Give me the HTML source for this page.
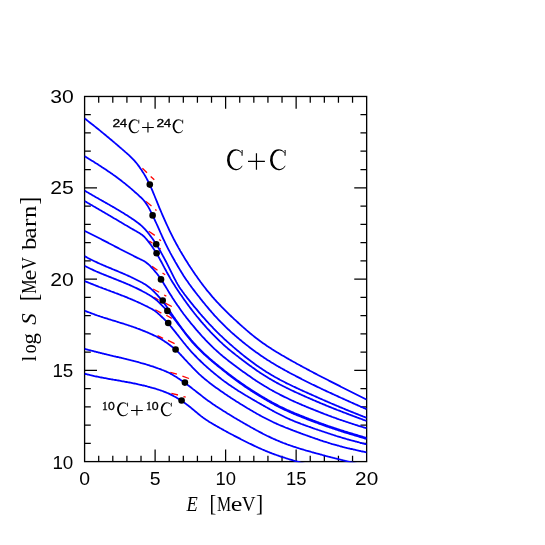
<!DOCTYPE html>
<html><head><meta charset="utf-8"><title>C+C S-factor</title>
<style>html,body{margin:0;padding:0;background:#fff;}svg{display:block;}text{font-family:"Liberation Sans",sans-serif;fill:#000;}.s{font-family:"Liberation Serif",serif;}</style></head><body>
<svg width="545" height="545" viewBox="0 0 545 545">
<title>log S versus E for C+C fusion reactions</title>
<rect x="0" y="0" width="545" height="545" fill="#fff"/>
<defs><clipPath id="cp"><rect x="84.6" y="96.47" width="282.6" height="365.7"/></clipPath></defs>
<path d="M98.70,461.6 V455.70 M98.70,96.47 V102.67 M112.80,461.6 V455.70 M112.80,96.47 V102.67 M126.91,461.6 V455.70 M126.91,96.47 V102.67 M141.01,461.6 V455.70 M141.01,96.47 V102.67 M155.11,461.6 V449.50 M155.11,96.47 V108.87 M169.21,461.6 V455.70 M169.21,96.47 V102.67 M183.32,461.6 V455.70 M183.32,96.47 V102.67 M197.42,461.6 V455.70 M197.42,96.47 V102.67 M211.52,461.6 V455.70 M211.52,96.47 V102.67 M225.62,461.6 V449.50 M225.62,96.47 V108.87 M239.73,461.6 V455.70 M239.73,96.47 V102.67 M253.83,461.6 V455.70 M253.83,96.47 V102.67 M267.93,461.6 V455.70 M267.93,96.47 V102.67 M282.03,461.6 V455.70 M282.03,96.47 V102.67 M296.14,461.6 V449.50 M296.14,96.47 V108.87 M310.24,461.6 V455.70 M310.24,96.47 V102.67 M324.34,461.6 V455.70 M324.34,96.47 V102.67 M338.44,461.6 V455.70 M338.44,96.47 V102.67 M352.55,461.6 V455.70 M352.55,96.47 V102.67 M84.6,443.34 H90.80 M366.65,443.34 H360.45 M84.6,425.09 H90.80 M366.65,425.09 H360.45 M84.6,406.83 H90.80 M366.65,406.83 H360.45 M84.6,388.57 H90.80 M366.65,388.57 H360.45 M84.6,370.32 H97.00 M366.65,370.32 H354.25 M84.6,352.06 H90.80 M366.65,352.06 H360.45 M84.6,333.80 H90.80 M366.65,333.80 H360.45 M84.6,315.55 H90.80 M366.65,315.55 H360.45 M84.6,297.29 H90.80 M366.65,297.29 H360.45 M84.6,279.04 H97.00 M366.65,279.04 H354.25 M84.6,260.78 H90.80 M366.65,260.78 H360.45 M84.6,242.52 H90.80 M366.65,242.52 H360.45 M84.6,224.27 H90.80 M366.65,224.27 H360.45 M84.6,206.01 H90.80 M366.65,206.01 H360.45 M84.6,187.75 H97.00 M366.65,187.75 H354.25 M84.6,169.50 H90.80 M366.65,169.50 H360.45 M84.6,151.24 H90.80 M366.65,151.24 H360.45 M84.6,132.98 H90.80 M366.65,132.98 H360.45 M84.6,114.73 H90.80 M366.65,114.73 H360.45" stroke="#000" stroke-width="1.25" fill="none"/>
<rect x="84.6" y="96.47" width="282.05" height="365.13" fill="none" stroke="#000" stroke-width="1.33"/>
<g stroke="#ff0000" stroke-width="1.3" fill="none" stroke-linecap="butt">
<path d="M142.4,168.3 L147,172.8"/>
<path d="M150.7,176.5 L154.3,179.8"/>
<path d="M146,201.5 L151.5,205.9"/>
<path d="M155.3,209.4 L156.5,210.4"/>
<path d="M148.7,231.2 L154.8,235.4"/>
<path d="M159.2,239.4 L161,240.8"/>
<path d="M149.3,241.1 L152.6,243.3"/>
<path d="M159.7,248.3 L160.7,249"/>
<path d="M152,266.4 L157.5,270.3"/>
<path d="M162.5,273 L165.2,274.7"/>
<path d="M153.1,289 L159.2,292.3"/>
<path d="M164.1,295 L166.3,296.1"/>
<path d="M154.2,297.2 L158.6,300"/>
<path d="M165.2,303.2 L171.8,306.5"/>
<path d="M155.3,309.8 L161.4,313.1"/>
<path d="M166.3,315.3 L171.8,318.4"/>
<path d="M157.5,335.7 L163,338.4"/>
<path d="M168,340.4 L174.6,343.6"/>
<path d="M170.3,372.3 L176.9,374.1"/>
<path d="M182.4,376.1 L189,378.5"/>
<path d="M171.4,393.4 L178,395"/>
<path d="M183.5,396.7 L185.7,397.2"/>
</g>
<g clip-path="url(#cp)" stroke="#0000ff" stroke-width="1.8" fill="none" stroke-linejoin="round">
<path d="M84.4,118.3 L85.4,119.1 L86.4,119.8 L87.4,120.6 L88.4,121.4 L89.4,122.2 L90.4,123.0 L91.4,123.8 L92.4,124.5 L93.4,125.3 L94.4,126.1 L95.4,126.9 L96.4,127.7 L97.4,128.5 L98.4,129.3 L99.4,130.1 L100.4,130.9 L101.4,131.8 L102.4,132.6 L103.4,133.4 L104.4,134.2 L105.4,135.0 L106.4,135.9 L107.4,136.7 L108.4,137.5 L109.4,138.4 L110.4,139.2 L111.4,140.0 L112.4,140.9 L113.4,141.7 L114.4,142.6 L115.4,143.4 L116.4,144.3 L117.4,145.1 L118.4,146.0 L119.4,146.9 L120.4,147.7 L121.4,148.6 L122.4,149.4 L123.4,150.3 L124.4,151.2 L125.4,152.1 L126.4,152.9 L127.4,153.8 L128.4,154.7 L129.4,155.6 L130.4,156.6 L131.4,157.6 L132.4,158.6 L133.4,159.6 L134.4,160.7 L135.4,161.8 L136.4,163.0 L137.4,164.3 L138.4,165.6 L139.4,166.9 L140.4,168.4 L141.4,169.8 L142.4,171.4 L143.4,172.9 L144.4,174.6 L145.4,176.3 L146.4,178.1 L147.4,180.0 L148.4,182.0 L149.4,184.0 L150.4,186.2 L151.4,188.4 L152.4,190.7 L153.4,193.1 L154.4,195.5 L155.4,198.0 L156.4,200.4 L157.4,202.9 L158.4,205.4 L159.4,207.8 L160.4,210.2 L161.4,212.5 L162.4,214.8 L163.4,217.1 L164.4,219.4 L165.4,221.6 L166.4,223.8 L167.4,226.0 L168.4,228.2 L169.4,230.3 L170.4,232.4 L171.4,234.4 L172.4,236.4 L173.4,238.4 L174.4,240.3 L175.4,242.1 L176.4,244.0 L177.4,245.8 L178.4,247.6 L179.4,249.3 L180.4,251.1 L181.4,252.8 L182.4,254.5 L183.4,256.1 L184.4,257.8 L185.4,259.4 L186.4,261.0 L187.4,262.6 L188.4,264.2 L189.4,265.7 L190.4,267.3 L191.4,268.8 L192.4,270.3 L193.4,271.7 L194.4,273.2 L195.4,274.7 L196.4,276.1 L197.4,277.5 L198.4,278.9 L199.4,280.3 L200.4,281.7 L201.4,283.0 L202.4,284.4 L203.4,285.7 L204.4,287.0 L205.4,288.3 L206.4,289.6 L207.4,290.8 L208.4,292.0 L209.4,293.2 L210.4,294.4 L211.4,295.6 L212.4,296.8 L213.4,297.9 L214.4,299.1 L215.4,300.2 L216.4,301.3 L217.4,302.4 L218.4,303.4 L219.4,304.5 L220.4,305.5 L221.4,306.6 L222.4,307.6 L223.4,308.6 L224.4,309.6 L225.4,310.6 L226.4,311.6 L227.4,312.6 L228.4,313.6 L229.4,314.6 L230.4,315.5 L231.4,316.5 L232.4,317.4 L233.4,318.3 L234.4,319.3 L235.4,320.2 L236.4,321.1 L237.4,322.0 L238.4,323.0 L239.4,323.9 L240.4,324.8 L241.4,325.7 L242.4,326.6 L243.4,327.4 L244.4,328.3 L245.4,329.2 L246.4,330.1 L247.4,330.9 L248.4,331.8 L249.4,332.6 L250.4,333.5 L251.4,334.3 L252.4,335.1 L253.4,335.9 L254.4,336.7 L255.4,337.5 L256.4,338.3 L257.4,339.0 L258.4,339.8 L259.4,340.5 L260.4,341.3 L261.4,342.0 L262.4,342.7 L263.4,343.4 L264.4,344.1 L265.4,344.8 L266.4,345.5 L267.4,346.2 L268.4,346.8 L269.4,347.5 L270.4,348.1 L271.4,348.8 L272.4,349.4 L273.4,350.0 L274.4,350.7 L275.4,351.3 L276.4,351.9 L277.4,352.5 L278.4,353.1 L279.4,353.7 L280.4,354.3 L281.4,354.9 L282.4,355.5 L283.4,356.0 L284.4,356.6 L285.4,357.2 L286.4,357.8 L287.4,358.4 L288.4,358.9 L289.4,359.5 L290.4,360.1 L291.4,360.6 L292.4,361.2 L293.4,361.7 L294.4,362.3 L295.4,362.8 L296.4,363.4 L297.4,364.0 L298.4,364.5 L299.4,365.0 L300.4,365.6 L301.4,366.1 L302.4,366.7 L303.4,367.2 L304.4,367.8 L305.4,368.3 L306.4,368.8 L307.4,369.4 L308.4,369.9 L309.4,370.4 L310.4,371.0 L311.4,371.5 L312.4,372.0 L313.4,372.6 L314.4,373.1 L315.4,373.6 L316.4,374.1 L317.4,374.7 L318.4,375.2 L319.4,375.7 L320.4,376.2 L321.4,376.7 L322.4,377.3 L323.4,377.8 L324.4,378.3 L325.4,378.8 L326.4,379.3 L327.4,379.8 L328.4,380.3 L329.4,380.9 L330.4,381.4 L331.4,381.9 L332.4,382.4 L333.4,382.9 L334.4,383.4 L335.4,383.9 L336.4,384.4 L337.4,384.9 L338.4,385.4 L339.4,385.9 L340.4,386.4 L341.4,387.0 L342.4,387.5 L343.4,388.0 L344.4,388.5 L345.4,389.0 L346.4,389.5 L347.4,390.0 L348.4,390.5 L349.4,391.0 L350.4,391.5 L351.4,392.0 L352.4,392.5 L353.4,393.0 L354.4,393.5 L355.4,394.0 L356.4,394.5 L357.4,395.0 L358.4,395.5 L359.4,396.0 L360.4,396.5 L361.4,397.0 L362.4,397.5 L363.4,398.0 L364.4,398.5 L365.4,399.0 L366.4,399.5"/>
<path d="M84.4,156.1 L85.4,156.7 L86.4,157.3 L87.4,157.9 L88.4,158.6 L89.4,159.2 L90.4,159.8 L91.4,160.4 L92.4,161.0 L93.4,161.6 L94.4,162.2 L95.4,162.9 L96.4,163.5 L97.4,164.1 L98.4,164.8 L99.4,165.4 L100.4,166.1 L101.4,166.7 L102.4,167.4 L103.4,168.0 L104.4,168.7 L105.4,169.3 L106.4,170.0 L107.4,170.7 L108.4,171.4 L109.4,172.1 L110.4,172.7 L111.4,173.4 L112.4,174.1 L113.4,174.9 L114.4,175.6 L115.4,176.3 L116.4,177.0 L117.4,177.8 L118.4,178.5 L119.4,179.3 L120.4,180.0 L121.4,180.8 L122.4,181.6 L123.4,182.4 L124.4,183.1 L125.4,183.9 L126.4,184.8 L127.4,185.6 L128.4,186.4 L129.4,187.2 L130.4,188.1 L131.4,188.9 L132.4,189.8 L133.4,190.7 L134.4,191.6 L135.4,192.5 L136.4,193.3 L137.4,194.2 L138.4,195.1 L139.4,196.1 L140.4,197.0 L141.4,197.9 L142.4,198.9 L143.4,200.0 L144.4,201.2 L145.4,202.4 L146.4,203.9 L147.4,205.4 L148.4,207.1 L149.4,208.9 L150.4,210.8 L151.4,212.8 L152.4,214.9 L153.4,217.0 L154.4,219.1 L155.4,221.3 L156.4,223.5 L157.4,225.7 L158.4,227.9 L159.4,230.2 L160.4,232.5 L161.4,234.7 L162.4,237.0 L163.4,239.1 L164.4,241.2 L165.4,243.3 L166.4,245.3 L167.4,247.3 L168.4,249.3 L169.4,251.2 L170.4,253.1 L171.4,254.9 L172.4,256.8 L173.4,258.5 L174.4,260.3 L175.4,262.1 L176.4,263.8 L177.4,265.5 L178.4,267.2 L179.4,268.9 L180.4,270.6 L181.4,272.2 L182.4,273.8 L183.4,275.4 L184.4,276.9 L185.4,278.4 L186.4,279.9 L187.4,281.3 L188.4,282.8 L189.4,284.2 L190.4,285.5 L191.4,286.9 L192.4,288.3 L193.4,289.6 L194.4,290.9 L195.4,292.2 L196.4,293.5 L197.4,294.8 L198.4,296.0 L199.4,297.3 L200.4,298.6 L201.4,299.8 L202.4,301.1 L203.4,302.3 L204.4,303.5 L205.4,304.8 L206.4,306.0 L207.4,307.2 L208.4,308.4 L209.4,309.6 L210.4,310.7 L211.4,311.9 L212.4,313.0 L213.4,314.1 L214.4,315.3 L215.4,316.4 L216.4,317.4 L217.4,318.5 L218.4,319.6 L219.4,320.6 L220.4,321.7 L221.4,322.7 L222.4,323.7 L223.4,324.7 L224.4,325.7 L225.4,326.7 L226.4,327.6 L227.4,328.6 L228.4,329.5 L229.4,330.4 L230.4,331.4 L231.4,332.3 L232.4,333.2 L233.4,334.0 L234.4,334.9 L235.4,335.8 L236.4,336.6 L237.4,337.5 L238.4,338.3 L239.4,339.2 L240.4,340.0 L241.4,340.8 L242.4,341.7 L243.4,342.5 L244.4,343.3 L245.4,344.1 L246.4,344.9 L247.4,345.6 L248.4,346.4 L249.4,347.2 L250.4,348.0 L251.4,348.7 L252.4,349.5 L253.4,350.2 L254.4,350.9 L255.4,351.7 L256.4,352.4 L257.4,353.1 L258.4,353.8 L259.4,354.5 L260.4,355.2 L261.4,355.9 L262.4,356.6 L263.4,357.2 L264.4,357.9 L265.4,358.6 L266.4,359.2 L267.4,359.9 L268.4,360.5 L269.4,361.1 L270.4,361.8 L271.4,362.4 L272.4,363.0 L273.4,363.6 L274.4,364.2 L275.4,364.8 L276.4,365.4 L277.4,366.0 L278.4,366.6 L279.4,367.1 L280.4,367.7 L281.4,368.3 L282.4,368.8 L283.4,369.4 L284.4,369.9 L285.4,370.5 L286.4,371.0 L287.4,371.6 L288.4,372.1 L289.4,372.7 L290.4,373.2 L291.4,373.7 L292.4,374.3 L293.4,374.8 L294.4,375.3 L295.4,375.8 L296.4,376.4 L297.4,376.9 L298.4,377.4 L299.4,377.9 L300.4,378.4 L301.4,378.9 L302.4,379.5 L303.4,380.0 L304.4,380.5 L305.4,381.0 L306.4,381.5 L307.4,382.0 L308.4,382.5 L309.4,383.0 L310.4,383.5 L311.4,384.0 L312.4,384.5 L313.4,384.9 L314.4,385.4 L315.4,385.9 L316.4,386.4 L317.4,386.9 L318.4,387.3 L319.4,387.8 L320.4,388.3 L321.4,388.8 L322.4,389.2 L323.4,389.7 L324.4,390.2 L325.4,390.6 L326.4,391.1 L327.4,391.6 L328.4,392.0 L329.4,392.5 L330.4,392.9 L331.4,393.4 L332.4,393.9 L333.4,394.3 L334.4,394.8 L335.4,395.2 L336.4,395.7 L337.4,396.1 L338.4,396.6 L339.4,397.1 L340.4,397.5 L341.4,398.0 L342.4,398.4 L343.4,398.9 L344.4,399.3 L345.4,399.8 L346.4,400.2 L347.4,400.7 L348.4,401.1 L349.4,401.6 L350.4,402.0 L351.4,402.5 L352.4,402.9 L353.4,403.4 L354.4,403.8 L355.4,404.3 L356.4,404.7 L357.4,405.1 L358.4,405.6 L359.4,406.0 L360.4,406.5 L361.4,406.9 L362.4,407.3 L363.4,407.8 L364.4,408.2 L365.4,408.6 L366.4,409.1"/>
<path d="M84.4,190.5 L85.4,191.1 L86.4,191.7 L87.4,192.3 L88.4,192.8 L89.4,193.4 L90.4,194.0 L91.4,194.6 L92.4,195.2 L93.4,195.8 L94.4,196.3 L95.4,196.9 L96.4,197.5 L97.4,198.0 L98.4,198.6 L99.4,199.2 L100.4,199.7 L101.4,200.3 L102.4,200.9 L103.4,201.4 L104.4,202.0 L105.4,202.6 L106.4,203.1 L107.4,203.7 L108.4,204.3 L109.4,204.8 L110.4,205.4 L111.4,206.0 L112.4,206.6 L113.4,207.1 L114.4,207.7 L115.4,208.3 L116.4,208.9 L117.4,209.5 L118.4,210.1 L119.4,210.7 L120.4,211.3 L121.4,211.9 L122.4,212.5 L123.4,213.1 L124.4,213.7 L125.4,214.4 L126.4,215.0 L127.4,215.6 L128.4,216.3 L129.4,216.9 L130.4,217.6 L131.4,218.2 L132.4,218.9 L133.4,219.6 L134.4,220.3 L135.4,221.0 L136.4,221.7 L137.4,222.4 L138.4,223.2 L139.4,224.0 L140.4,224.8 L141.4,225.7 L142.4,226.6 L143.4,227.6 L144.4,228.6 L145.4,229.7 L146.4,230.8 L147.4,232.0 L148.4,233.3 L149.4,234.5 L150.4,235.9 L151.4,237.2 L152.4,238.6 L153.4,240.0 L154.4,241.5 L155.4,243.0 L156.4,244.5 L157.4,246.1 L158.4,247.8 L159.4,249.5 L160.4,251.3 L161.4,253.1 L162.4,254.9 L163.4,256.8 L164.4,258.6 L165.4,260.5 L166.4,262.4 L167.4,264.4 L168.4,266.3 L169.4,268.3 L170.4,270.3 L171.4,272.3 L172.4,274.3 L173.4,276.3 L174.4,278.3 L175.4,280.2 L176.4,282.1 L177.4,283.9 L178.4,285.6 L179.4,287.2 L180.4,288.7 L181.4,290.1 L182.4,291.5 L183.4,292.8 L184.4,294.2 L185.4,295.5 L186.4,296.8 L187.4,298.1 L188.4,299.3 L189.4,300.6 L190.4,301.9 L191.4,303.1 L192.4,304.3 L193.4,305.6 L194.4,306.8 L195.4,308.0 L196.4,309.2 L197.4,310.4 L198.4,311.6 L199.4,312.8 L200.4,314.0 L201.4,315.1 L202.4,316.3 L203.4,317.4 L204.4,318.5 L205.4,319.7 L206.4,320.8 L207.4,321.9 L208.4,323.0 L209.4,324.1 L210.4,325.1 L211.4,326.2 L212.4,327.2 L213.4,328.3 L214.4,329.3 L215.4,330.3 L216.4,331.4 L217.4,332.4 L218.4,333.3 L219.4,334.3 L220.4,335.3 L221.4,336.2 L222.4,337.2 L223.4,338.1 L224.4,339.1 L225.4,340.0 L226.4,340.9 L227.4,341.8 L228.4,342.7 L229.4,343.6 L230.4,344.5 L231.4,345.3 L232.4,346.2 L233.4,347.1 L234.4,347.9 L235.4,348.8 L236.4,349.6 L237.4,350.5 L238.4,351.3 L239.4,352.1 L240.4,353.0 L241.4,353.8 L242.4,354.6 L243.4,355.4 L244.4,356.2 L245.4,357.0 L246.4,357.8 L247.4,358.5 L248.4,359.3 L249.4,360.1 L250.4,360.8 L251.4,361.6 L252.4,362.3 L253.4,363.0 L254.4,363.8 L255.4,364.5 L256.4,365.2 L257.4,365.9 L258.4,366.6 L259.4,367.3 L260.4,367.9 L261.4,368.6 L262.4,369.3 L263.4,369.9 L264.4,370.6 L265.4,371.2 L266.4,371.9 L267.4,372.5 L268.4,373.1 L269.4,373.7 L270.4,374.3 L271.4,374.9 L272.4,375.5 L273.4,376.1 L274.4,376.7 L275.4,377.2 L276.4,377.8 L277.4,378.3 L278.4,378.9 L279.4,379.4 L280.4,380.0 L281.4,380.5 L282.4,381.0 L283.4,381.5 L284.4,382.0 L285.4,382.6 L286.4,383.1 L287.4,383.6 L288.4,384.0 L289.4,384.5 L290.4,385.0 L291.4,385.5 L292.4,386.0 L293.4,386.5 L294.4,386.9 L295.4,387.4 L296.4,387.9 L297.4,388.3 L298.4,388.8 L299.4,389.2 L300.4,389.7 L301.4,390.2 L302.4,390.6 L303.4,391.1 L304.4,391.5 L305.4,392.0 L306.4,392.4 L307.4,392.9 L308.4,393.3 L309.4,393.8 L310.4,394.2 L311.4,394.6 L312.4,395.1 L313.4,395.5 L314.4,396.0 L315.4,396.4 L316.4,396.9 L317.4,397.3 L318.4,397.8 L319.4,398.2 L320.4,398.7 L321.4,399.1 L322.4,399.5 L323.4,400.0 L324.4,400.4 L325.4,400.9 L326.4,401.3 L327.4,401.7 L328.4,402.2 L329.4,402.6 L330.4,403.0 L331.4,403.5 L332.4,403.9 L333.4,404.3 L334.4,404.7 L335.4,405.2 L336.4,405.6 L337.4,406.0 L338.4,406.4 L339.4,406.9 L340.4,407.3 L341.4,407.7 L342.4,408.1 L343.4,408.5 L344.4,408.9 L345.4,409.4 L346.4,409.8 L347.4,410.2 L348.4,410.6 L349.4,411.0 L350.4,411.4 L351.4,411.8 L352.4,412.2 L353.4,412.6 L354.4,413.0 L355.4,413.4 L356.4,413.8 L357.4,414.2 L358.4,414.6 L359.4,415.0 L360.4,415.4 L361.4,415.8 L362.4,416.2 L363.4,416.6 L364.4,416.9 L365.4,417.3 L366.4,417.7"/>
<path d="M84.4,200.9 L85.4,201.5 L86.4,202.1 L87.4,202.7 L88.4,203.2 L89.4,203.8 L90.4,204.4 L91.4,205.0 L92.4,205.6 L93.4,206.2 L94.4,206.7 L95.4,207.3 L96.4,207.9 L97.4,208.5 L98.4,209.1 L99.4,209.7 L100.4,210.2 L101.4,210.8 L102.4,211.4 L103.4,212.0 L104.4,212.6 L105.4,213.2 L106.4,213.8 L107.4,214.3 L108.4,214.9 L109.4,215.5 L110.4,216.1 L111.4,216.7 L112.4,217.3 L113.4,217.9 L114.4,218.5 L115.4,219.0 L116.4,219.6 L117.4,220.2 L118.4,220.8 L119.4,221.4 L120.4,222.0 L121.4,222.6 L122.4,223.2 L123.4,223.8 L124.4,224.4 L125.4,225.0 L126.4,225.5 L127.4,226.1 L128.4,226.7 L129.4,227.3 L130.4,227.9 L131.4,228.5 L132.4,229.1 L133.4,229.6 L134.4,230.2 L135.4,230.8 L136.4,231.3 L137.4,231.9 L138.4,232.5 L139.4,233.1 L140.4,233.7 L141.4,234.4 L142.4,235.1 L143.4,236.0 L144.4,236.9 L145.4,238.0 L146.4,239.1 L147.4,240.3 L148.4,241.6 L149.4,242.9 L150.4,244.2 L151.4,245.6 L152.4,247.0 L153.4,248.5 L154.4,250.0 L155.4,251.6 L156.4,253.2 L157.4,254.9 L158.4,256.6 L159.4,258.4 L160.4,260.2 L161.4,262.0 L162.4,263.9 L163.4,265.8 L164.4,267.7 L165.4,269.5 L166.4,271.4 L167.4,273.2 L168.4,275.0 L169.4,276.8 L170.4,278.6 L171.4,280.3 L172.4,281.9 L173.4,283.5 L174.4,285.1 L175.4,286.7 L176.4,288.2 L177.4,289.7 L178.4,291.2 L179.4,292.7 L180.4,294.2 L181.4,295.6 L182.4,297.1 L183.4,298.5 L184.4,299.9 L185.4,301.3 L186.4,302.7 L187.4,304.1 L188.4,305.4 L189.4,306.8 L190.4,308.1 L191.4,309.4 L192.4,310.7 L193.4,312.0 L194.4,313.3 L195.4,314.5 L196.4,315.8 L197.4,317.0 L198.4,318.2 L199.4,319.4 L200.4,320.6 L201.4,321.8 L202.4,322.9 L203.4,324.1 L204.4,325.2 L205.4,326.3 L206.4,327.5 L207.4,328.6 L208.4,329.6 L209.4,330.7 L210.4,331.8 L211.4,332.8 L212.4,333.9 L213.4,334.9 L214.4,335.9 L215.4,336.9 L216.4,337.9 L217.4,338.9 L218.4,339.9 L219.4,340.9 L220.4,341.8 L221.4,342.7 L222.4,343.7 L223.4,344.6 L224.4,345.5 L225.4,346.4 L226.4,347.2 L227.4,348.1 L228.4,349.0 L229.4,349.8 L230.4,350.6 L231.4,351.4 L232.4,352.2 L233.4,353.0 L234.4,353.8 L235.4,354.6 L236.4,355.4 L237.4,356.1 L238.4,356.9 L239.4,357.7 L240.4,358.4 L241.4,359.2 L242.4,360.0 L243.4,360.7 L244.4,361.5 L245.4,362.2 L246.4,363.0 L247.4,363.7 L248.4,364.5 L249.4,365.2 L250.4,365.9 L251.4,366.6 L252.4,367.4 L253.4,368.1 L254.4,368.8 L255.4,369.5 L256.4,370.2 L257.4,370.9 L258.4,371.6 L259.4,372.2 L260.4,372.9 L261.4,373.6 L262.4,374.2 L263.4,374.8 L264.4,375.5 L265.4,376.1 L266.4,376.7 L267.4,377.3 L268.4,378.0 L269.4,378.6 L270.4,379.1 L271.4,379.7 L272.4,380.3 L273.4,380.9 L274.4,381.4 L275.4,382.0 L276.4,382.6 L277.4,383.1 L278.4,383.6 L279.4,384.2 L280.4,384.7 L281.4,385.2 L282.4,385.7 L283.4,386.3 L284.4,386.8 L285.4,387.3 L286.4,387.8 L287.4,388.2 L288.4,388.7 L289.4,389.2 L290.4,389.7 L291.4,390.2 L292.4,390.7 L293.4,391.1 L294.4,391.6 L295.4,392.1 L296.4,392.5 L297.4,393.0 L298.4,393.4 L299.4,393.9 L300.4,394.3 L301.4,394.8 L302.4,395.2 L303.4,395.7 L304.4,396.1 L305.4,396.6 L306.4,397.0 L307.4,397.5 L308.4,397.9 L309.4,398.3 L310.4,398.8 L311.4,399.2 L312.4,399.6 L313.4,400.1 L314.4,400.5 L315.4,400.9 L316.4,401.4 L317.4,401.8 L318.4,402.2 L319.4,402.6 L320.4,403.1 L321.4,403.5 L322.4,403.9 L323.4,404.3 L324.4,404.7 L325.4,405.1 L326.4,405.6 L327.4,406.0 L328.4,406.4 L329.4,406.8 L330.4,407.2 L331.4,407.6 L332.4,408.0 L333.4,408.4 L334.4,408.8 L335.4,409.2 L336.4,409.6 L337.4,410.0 L338.4,410.3 L339.4,410.7 L340.4,411.1 L341.4,411.5 L342.4,411.9 L343.4,412.3 L344.4,412.7 L345.4,413.0 L346.4,413.4 L347.4,413.8 L348.4,414.2 L349.4,414.6 L350.4,414.9 L351.4,415.3 L352.4,415.7 L353.4,416.1 L354.4,416.4 L355.4,416.8 L356.4,417.2 L357.4,417.6 L358.4,417.9 L359.4,418.3 L360.4,418.7 L361.4,419.0 L362.4,419.4 L363.4,419.8 L364.4,420.1 L365.4,420.5 L366.4,420.9"/>
<path d="M84.4,230.9 L85.4,231.3 L86.4,231.8 L87.4,232.3 L88.4,232.8 L89.4,233.3 L90.4,233.8 L91.4,234.3 L92.4,234.8 L93.4,235.3 L94.4,235.8 L95.4,236.3 L96.4,236.8 L97.4,237.3 L98.4,237.8 L99.4,238.3 L100.4,238.8 L101.4,239.3 L102.4,239.9 L103.4,240.4 L104.4,240.9 L105.4,241.4 L106.4,241.9 L107.4,242.4 L108.4,242.9 L109.4,243.5 L110.4,244.0 L111.4,244.5 L112.4,245.0 L113.4,245.5 L114.4,246.1 L115.4,246.6 L116.4,247.1 L117.4,247.6 L118.4,248.1 L119.4,248.7 L120.4,249.2 L121.4,249.7 L122.4,250.2 L123.4,250.7 L124.4,251.2 L125.4,251.8 L126.4,252.3 L127.4,252.8 L128.4,253.3 L129.4,253.8 L130.4,254.3 L131.4,254.8 L132.4,255.3 L133.4,255.8 L134.4,256.4 L135.4,256.9 L136.4,257.4 L137.4,257.9 L138.4,258.3 L139.4,258.8 L140.4,259.3 L141.4,259.7 L142.4,260.2 L143.4,260.7 L144.4,261.3 L145.4,261.9 L146.4,262.7 L147.4,263.5 L148.4,264.3 L149.4,265.2 L150.4,266.2 L151.4,267.3 L152.4,268.4 L153.4,269.5 L154.4,270.7 L155.4,271.9 L156.4,273.0 L157.4,274.3 L158.4,275.6 L159.4,277.0 L160.4,278.5 L161.4,280.0 L162.4,281.5 L163.4,283.1 L164.4,284.7 L165.4,286.3 L166.4,287.9 L167.4,289.6 L168.4,291.3 L169.4,292.9 L170.4,294.5 L171.4,296.1 L172.4,297.7 L173.4,299.2 L174.4,300.8 L175.4,302.3 L176.4,303.7 L177.4,305.2 L178.4,306.6 L179.4,308.1 L180.4,309.5 L181.4,310.9 L182.4,312.3 L183.4,313.7 L184.4,315.0 L185.4,316.3 L186.4,317.6 L187.4,318.8 L188.4,320.1 L189.4,321.3 L190.4,322.6 L191.4,323.8 L192.4,325.0 L193.4,326.2 L194.4,327.4 L195.4,328.6 L196.4,329.8 L197.4,330.9 L198.4,332.1 L199.4,333.2 L200.4,334.3 L201.4,335.5 L202.4,336.6 L203.4,337.6 L204.4,338.7 L205.4,339.8 L206.4,340.8 L207.4,341.9 L208.4,342.9 L209.4,343.9 L210.4,344.9 L211.4,345.9 L212.4,346.9 L213.4,347.8 L214.4,348.8 L215.4,349.7 L216.4,350.6 L217.4,351.5 L218.4,352.4 L219.4,353.3 L220.4,354.2 L221.4,355.0 L222.4,355.9 L223.4,356.7 L224.4,357.5 L225.4,358.3 L226.4,359.1 L227.4,359.9 L228.4,360.7 L229.4,361.5 L230.4,362.2 L231.4,363.0 L232.4,363.8 L233.4,364.5 L234.4,365.3 L235.4,366.0 L236.4,366.8 L237.4,367.5 L238.4,368.2 L239.4,369.0 L240.4,369.7 L241.4,370.4 L242.4,371.2 L243.4,371.9 L244.4,372.6 L245.4,373.3 L246.4,374.0 L247.4,374.7 L248.4,375.4 L249.4,376.1 L250.4,376.8 L251.4,377.5 L252.4,378.2 L253.4,378.9 L254.4,379.5 L255.4,380.2 L256.4,380.9 L257.4,381.5 L258.4,382.2 L259.4,382.8 L260.4,383.5 L261.4,384.1 L262.4,384.7 L263.4,385.3 L264.4,385.9 L265.4,386.5 L266.4,387.1 L267.4,387.7 L268.4,388.3 L269.4,388.9 L270.4,389.5 L271.4,390.0 L272.4,390.6 L273.4,391.1 L274.4,391.7 L275.4,392.2 L276.4,392.8 L277.4,393.3 L278.4,393.8 L279.4,394.3 L280.4,394.9 L281.4,395.4 L282.4,395.9 L283.4,396.4 L284.4,396.9 L285.4,397.3 L286.4,397.8 L287.4,398.3 L288.4,398.8 L289.4,399.3 L290.4,399.7 L291.4,400.2 L292.4,400.7 L293.4,401.1 L294.4,401.6 L295.4,402.0 L296.4,402.5 L297.4,402.9 L298.4,403.3 L299.4,403.8 L300.4,404.2 L301.4,404.6 L302.4,405.1 L303.4,405.5 L304.4,405.9 L305.4,406.3 L306.4,406.8 L307.4,407.2 L308.4,407.6 L309.4,408.0 L310.4,408.4 L311.4,408.8 L312.4,409.2 L313.4,409.6 L314.4,410.0 L315.4,410.4 L316.4,410.8 L317.4,411.2 L318.4,411.6 L319.4,412.0 L320.4,412.4 L321.4,412.8 L322.4,413.2 L323.4,413.6 L324.4,414.0 L325.4,414.4 L326.4,414.7 L327.4,415.1 L328.4,415.5 L329.4,415.9 L330.4,416.2 L331.4,416.6 L332.4,417.0 L333.4,417.3 L334.4,417.7 L335.4,418.0 L336.4,418.4 L337.4,418.8 L338.4,419.1 L339.4,419.5 L340.4,419.8 L341.4,420.2 L342.4,420.5 L343.4,420.8 L344.4,421.2 L345.4,421.5 L346.4,421.9 L347.4,422.2 L348.4,422.5 L349.4,422.9 L350.4,423.2 L351.4,423.5 L352.4,423.8 L353.4,424.2 L354.4,424.5 L355.4,424.8 L356.4,425.1 L357.4,425.4 L358.4,425.8 L359.4,426.1 L360.4,426.4 L361.4,426.7 L362.4,427.0 L363.4,427.3 L364.4,427.6 L365.4,427.9 L366.4,428.2"/>
<path d="M84.4,256.1 L85.4,256.6 L86.4,257.1 L87.4,257.7 L88.4,258.2 L89.4,258.7 L90.4,259.2 L91.4,259.7 L92.4,260.2 L93.4,260.7 L94.4,261.2 L95.4,261.7 L96.4,262.1 L97.4,262.6 L98.4,263.1 L99.4,263.5 L100.4,264.0 L101.4,264.4 L102.4,264.8 L103.4,265.3 L104.4,265.7 L105.4,266.1 L106.4,266.6 L107.4,267.0 L108.4,267.4 L109.4,267.8 L110.4,268.2 L111.4,268.6 L112.4,269.1 L113.4,269.5 L114.4,269.9 L115.4,270.3 L116.4,270.7 L117.4,271.1 L118.4,271.5 L119.4,272.0 L120.4,272.4 L121.4,272.8 L122.4,273.2 L123.4,273.7 L124.4,274.1 L125.4,274.5 L126.4,275.0 L127.4,275.4 L128.4,275.9 L129.4,276.3 L130.4,276.8 L131.4,277.3 L132.4,277.7 L133.4,278.2 L134.4,278.7 L135.4,279.2 L136.4,279.7 L137.4,280.2 L138.4,280.7 L139.4,281.2 L140.4,281.7 L141.4,282.3 L142.4,282.8 L143.4,283.4 L144.4,284.0 L145.4,284.6 L146.4,285.3 L147.4,286.0 L148.4,286.7 L149.4,287.5 L150.4,288.3 L151.4,289.2 L152.4,290.1 L153.4,291.1 L154.4,292.0 L155.4,293.1 L156.4,294.1 L157.4,295.2 L158.4,296.3 L159.4,297.4 L160.4,298.6 L161.4,299.8 L162.4,301.0 L163.4,302.3 L164.4,303.6 L165.4,304.9 L166.4,306.3 L167.4,307.7 L168.4,309.1 L169.4,310.6 L170.4,312.0 L171.4,313.5 L172.4,314.9 L173.4,316.4 L174.4,317.8 L175.4,319.3 L176.4,320.7 L177.4,322.1 L178.4,323.5 L179.4,324.9 L180.4,326.3 L181.4,327.7 L182.4,329.1 L183.4,330.4 L184.4,331.7 L185.4,333.0 L186.4,334.3 L187.4,335.5 L188.4,336.7 L189.4,337.9 L190.4,339.1 L191.4,340.3 L192.4,341.4 L193.4,342.5 L194.4,343.6 L195.4,344.7 L196.4,345.8 L197.4,346.9 L198.4,347.9 L199.4,348.9 L200.4,349.9 L201.4,350.9 L202.4,351.9 L203.4,352.9 L204.4,353.8 L205.4,354.7 L206.4,355.6 L207.4,356.5 L208.4,357.4 L209.4,358.3 L210.4,359.2 L211.4,360.0 L212.4,360.9 L213.4,361.7 L214.4,362.5 L215.4,363.4 L216.4,364.2 L217.4,365.0 L218.4,365.8 L219.4,366.6 L220.4,367.4 L221.4,368.2 L222.4,369.0 L223.4,369.8 L224.4,370.6 L225.4,371.4 L226.4,372.1 L227.4,372.9 L228.4,373.7 L229.4,374.5 L230.4,375.2 L231.4,376.0 L232.4,376.7 L233.4,377.5 L234.4,378.2 L235.4,379.0 L236.4,379.7 L237.4,380.4 L238.4,381.1 L239.4,381.8 L240.4,382.5 L241.4,383.2 L242.4,383.9 L243.4,384.6 L244.4,385.3 L245.4,386.0 L246.4,386.7 L247.4,387.3 L248.4,388.0 L249.4,388.6 L250.4,389.3 L251.4,389.9 L252.4,390.6 L253.4,391.2 L254.4,391.8 L255.4,392.5 L256.4,393.1 L257.4,393.7 L258.4,394.3 L259.4,394.9 L260.4,395.6 L261.4,396.2 L262.4,396.8 L263.4,397.4 L264.4,397.9 L265.4,398.5 L266.4,399.1 L267.4,399.7 L268.4,400.3 L269.4,400.8 L270.4,401.4 L271.4,401.9 L272.4,402.5 L273.4,403.0 L274.4,403.6 L275.4,404.1 L276.4,404.6 L277.4,405.1 L278.4,405.7 L279.4,406.2 L280.4,406.7 L281.4,407.2 L282.4,407.6 L283.4,408.1 L284.4,408.6 L285.4,409.1 L286.4,409.5 L287.4,410.0 L288.4,410.4 L289.4,410.9 L290.4,411.3 L291.4,411.8 L292.4,412.2 L293.4,412.6 L294.4,413.1 L295.4,413.5 L296.4,413.9 L297.4,414.3 L298.4,414.7 L299.4,415.1 L300.4,415.5 L301.4,415.9 L302.4,416.3 L303.4,416.7 L304.4,417.1 L305.4,417.5 L306.4,417.9 L307.4,418.3 L308.4,418.7 L309.4,419.1 L310.4,419.4 L311.4,419.8 L312.4,420.2 L313.4,420.6 L314.4,420.9 L315.4,421.3 L316.4,421.7 L317.4,422.0 L318.4,422.4 L319.4,422.8 L320.4,423.1 L321.4,423.5 L322.4,423.9 L323.4,424.2 L324.4,424.6 L325.4,424.9 L326.4,425.3 L327.4,425.6 L328.4,426.0 L329.4,426.3 L330.4,426.7 L331.4,427.0 L332.4,427.3 L333.4,427.7 L334.4,428.0 L335.4,428.3 L336.4,428.7 L337.4,429.0 L338.4,429.3 L339.4,429.7 L340.4,430.0 L341.4,430.3 L342.4,430.6 L343.4,430.9 L344.4,431.3 L345.4,431.6 L346.4,431.9 L347.4,432.2 L348.4,432.5 L349.4,432.8 L350.4,433.1 L351.4,433.4 L352.4,433.7 L353.4,434.0 L354.4,434.3 L355.4,434.6 L356.4,434.9 L357.4,435.2 L358.4,435.5 L359.4,435.8 L360.4,436.1 L361.4,436.4 L362.4,436.7 L363.4,437.0 L364.4,437.3 L365.4,437.6 L366.4,437.9"/>
<path d="M84.4,265.7 L85.4,266.2 L86.4,266.7 L87.4,267.2 L88.4,267.7 L89.4,268.2 L90.4,268.7 L91.4,269.2 L92.4,269.6 L93.4,270.1 L94.4,270.6 L95.4,271.0 L96.4,271.5 L97.4,271.9 L98.4,272.3 L99.4,272.7 L100.4,273.2 L101.4,273.6 L102.4,274.0 L103.4,274.4 L104.4,274.8 L105.4,275.2 L106.4,275.6 L107.4,276.0 L108.4,276.4 L109.4,276.8 L110.4,277.2 L111.4,277.6 L112.4,278.0 L113.4,278.4 L114.4,278.8 L115.4,279.2 L116.4,279.6 L117.4,280.0 L118.4,280.4 L119.4,280.8 L120.4,281.2 L121.4,281.6 L122.4,282.0 L123.4,282.4 L124.4,282.8 L125.4,283.2 L126.4,283.7 L127.4,284.1 L128.4,284.5 L129.4,284.9 L130.4,285.4 L131.4,285.8 L132.4,286.3 L133.4,286.7 L134.4,287.2 L135.4,287.7 L136.4,288.1 L137.4,288.6 L138.4,289.1 L139.4,289.6 L140.4,290.1 L141.4,290.6 L142.4,291.2 L143.4,291.7 L144.4,292.2 L145.4,292.8 L146.4,293.3 L147.4,293.9 L148.4,294.5 L149.4,295.1 L150.4,295.7 L151.4,296.3 L152.4,297.0 L153.4,297.7 L154.4,298.4 L155.4,299.2 L156.4,300.0 L157.4,300.9 L158.4,301.9 L159.4,302.8 L160.4,303.8 L161.4,304.8 L162.4,305.8 L163.4,306.8 L164.4,307.8 L165.4,308.9 L166.4,309.9 L167.4,311.0 L168.4,312.1 L169.4,313.2 L170.4,314.4 L171.4,315.5 L172.4,316.7 L173.4,318.0 L174.4,319.2 L175.4,320.5 L176.4,321.8 L177.4,323.1 L178.4,324.4 L179.4,325.7 L180.4,327.0 L181.4,328.3 L182.4,329.6 L183.4,331.0 L184.4,332.3 L185.4,333.6 L186.4,334.9 L187.4,336.2 L188.4,337.5 L189.4,338.7 L190.4,340.0 L191.4,341.1 L192.4,342.3 L193.4,343.4 L194.4,344.5 L195.4,345.5 L196.4,346.6 L197.4,347.6 L198.4,348.6 L199.4,349.7 L200.4,350.7 L201.4,351.6 L202.4,352.6 L203.4,353.5 L204.4,354.5 L205.4,355.4 L206.4,356.3 L207.4,357.2 L208.4,358.1 L209.4,359.0 L210.4,359.8 L211.4,360.7 L212.4,361.5 L213.4,362.4 L214.4,363.2 L215.4,364.0 L216.4,364.9 L217.4,365.7 L218.4,366.5 L219.4,367.3 L220.4,368.1 L221.4,368.9 L222.4,369.7 L223.4,370.5 L224.4,371.3 L225.4,372.1 L226.4,372.9 L227.4,373.7 L228.4,374.5 L229.4,375.3 L230.4,376.0 L231.4,376.8 L232.4,377.6 L233.4,378.3 L234.4,379.1 L235.4,379.8 L236.4,380.6 L237.4,381.3 L238.4,382.0 L239.4,382.7 L240.4,383.4 L241.4,384.1 L242.4,384.8 L243.4,385.5 L244.4,386.2 L245.4,386.9 L246.4,387.6 L247.4,388.3 L248.4,388.9 L249.4,389.6 L250.4,390.2 L251.4,390.9 L252.4,391.5 L253.4,392.2 L254.4,392.8 L255.4,393.4 L256.4,394.1 L257.4,394.7 L258.4,395.3 L259.4,395.9 L260.4,396.5 L261.4,397.1 L262.4,397.8 L263.4,398.3 L264.4,398.9 L265.4,399.5 L266.4,400.1 L267.4,400.7 L268.4,401.3 L269.4,401.8 L270.4,402.4 L271.4,402.9 L272.4,403.5 L273.4,404.0 L274.4,404.6 L275.4,405.1 L276.4,405.6 L277.4,406.1 L278.4,406.7 L279.4,407.2 L280.4,407.7 L281.4,408.2 L282.4,408.6 L283.4,409.1 L284.4,409.6 L285.4,410.1 L286.4,410.5 L287.4,411.0 L288.4,411.5 L289.4,411.9 L290.4,412.3 L291.4,412.8 L292.4,413.2 L293.4,413.6 L294.4,414.1 L295.4,414.5 L296.4,414.9 L297.4,415.3 L298.4,415.7 L299.4,416.1 L300.4,416.5 L301.4,416.9 L302.4,417.3 L303.4,417.7 L304.4,418.1 L305.4,418.5 L306.4,418.9 L307.4,419.3 L308.4,419.7 L309.4,420.1 L310.4,420.4 L311.4,420.8 L312.4,421.2 L313.4,421.6 L314.4,421.9 L315.4,422.3 L316.4,422.7 L317.4,423.0 L318.4,423.4 L319.4,423.8 L320.4,424.1 L321.4,424.5 L322.4,424.9 L323.4,425.2 L324.4,425.6 L325.4,425.9 L326.4,426.3 L327.4,426.6 L328.4,427.0 L329.4,427.3 L330.4,427.7 L331.4,428.0 L332.4,428.3 L333.4,428.7 L334.4,429.0 L335.4,429.3 L336.4,429.7 L337.4,430.0 L338.4,430.3 L339.4,430.7 L340.4,431.0 L341.4,431.3 L342.4,431.6 L343.4,431.9 L344.4,432.3 L345.4,432.6 L346.4,432.9 L347.4,433.2 L348.4,433.5 L349.4,433.8 L350.4,434.1 L351.4,434.4 L352.4,434.7 L353.4,435.0 L354.4,435.3 L355.4,435.6 L356.4,435.9 L357.4,436.2 L358.4,436.5 L359.4,436.8 L360.4,437.1 L361.4,437.4 L362.4,437.7 L363.4,438.0 L364.4,438.3 L365.4,438.6 L366.4,438.9"/>
<path d="M84.4,281.0 L85.4,281.4 L86.4,281.8 L87.4,282.2 L88.4,282.6 L89.4,283.0 L90.4,283.4 L91.4,283.8 L92.4,284.2 L93.4,284.6 L94.4,285.0 L95.4,285.4 L96.4,285.8 L97.4,286.2 L98.4,286.6 L99.4,287.0 L100.4,287.3 L101.4,287.7 L102.4,288.1 L103.4,288.5 L104.4,288.8 L105.4,289.2 L106.4,289.6 L107.4,290.0 L108.4,290.3 L109.4,290.7 L110.4,291.1 L111.4,291.5 L112.4,291.8 L113.4,292.2 L114.4,292.6 L115.4,293.0 L116.4,293.3 L117.4,293.7 L118.4,294.1 L119.4,294.5 L120.4,294.9 L121.4,295.3 L122.4,295.7 L123.4,296.0 L124.4,296.4 L125.4,296.8 L126.4,297.2 L127.4,297.6 L128.4,298.1 L129.4,298.5 L130.4,298.9 L131.4,299.3 L132.4,299.7 L133.4,300.2 L134.4,300.6 L135.4,301.0 L136.4,301.5 L137.4,301.9 L138.4,302.4 L139.4,302.8 L140.4,303.3 L141.4,303.8 L142.4,304.2 L143.4,304.7 L144.4,305.2 L145.4,305.7 L146.4,306.2 L147.4,306.6 L148.4,307.2 L149.4,307.7 L150.4,308.2 L151.4,308.7 L152.4,309.3 L153.4,310.0 L154.4,310.6 L155.4,311.3 L156.4,312.1 L157.4,312.9 L158.4,313.8 L159.4,314.7 L160.4,315.6 L161.4,316.5 L162.4,317.5 L163.4,318.4 L164.4,319.4 L165.4,320.4 L166.4,321.5 L167.4,322.5 L168.4,323.6 L169.4,324.8 L170.4,326.0 L171.4,327.2 L172.4,328.4 L173.4,329.7 L174.4,330.9 L175.4,332.1 L176.4,333.4 L177.4,334.7 L178.4,335.9 L179.4,337.2 L180.4,338.5 L181.4,339.7 L182.4,341.0 L183.4,342.3 L184.4,343.5 L185.4,344.7 L186.4,346.0 L187.4,347.2 L188.4,348.4 L189.4,349.5 L190.4,350.7 L191.4,351.8 L192.4,352.9 L193.4,353.9 L194.4,355.0 L195.4,356.0 L196.4,357.0 L197.4,358.1 L198.4,359.1 L199.4,360.0 L200.4,361.0 L201.4,362.0 L202.4,362.9 L203.4,363.9 L204.4,364.8 L205.4,365.7 L206.4,366.6 L207.4,367.5 L208.4,368.4 L209.4,369.2 L210.4,370.1 L211.4,371.0 L212.4,371.8 L213.4,372.6 L214.4,373.5 L215.4,374.3 L216.4,375.1 L217.4,375.9 L218.4,376.7 L219.4,377.5 L220.4,378.3 L221.4,379.1 L222.4,379.9 L223.4,380.6 L224.4,381.4 L225.4,382.1 L226.4,382.8 L227.4,383.5 L228.4,384.2 L229.4,384.9 L230.4,385.6 L231.4,386.3 L232.4,387.0 L233.4,387.6 L234.4,388.3 L235.4,388.9 L236.4,389.6 L237.4,390.2 L238.4,390.9 L239.4,391.5 L240.4,392.1 L241.4,392.7 L242.4,393.3 L243.4,393.9 L244.4,394.6 L245.4,395.2 L246.4,395.8 L247.4,396.3 L248.4,396.9 L249.4,397.5 L250.4,398.1 L251.4,398.7 L252.4,399.3 L253.4,399.9 L254.4,400.4 L255.4,401.0 L256.4,401.6 L257.4,402.2 L258.4,402.7 L259.4,403.3 L260.4,403.9 L261.4,404.4 L262.4,405.0 L263.4,405.6 L264.4,406.1 L265.4,406.7 L266.4,407.3 L267.4,407.8 L268.4,408.4 L269.4,408.9 L270.4,409.5 L271.4,410.0 L272.4,410.6 L273.4,411.1 L274.4,411.7 L275.4,412.2 L276.4,412.7 L277.4,413.3 L278.4,413.8 L279.4,414.3 L280.4,414.8 L281.4,415.3 L282.4,415.8 L283.4,416.3 L284.4,416.8 L285.4,417.3 L286.4,417.7 L287.4,418.2 L288.4,418.7 L289.4,419.1 L290.4,419.6 L291.4,420.0 L292.4,420.4 L293.4,420.8 L294.4,421.3 L295.4,421.7 L296.4,422.1 L297.4,422.4 L298.4,422.8 L299.4,423.2 L300.4,423.6 L301.4,424.0 L302.4,424.3 L303.4,424.7 L304.4,425.1 L305.4,425.4 L306.4,425.8 L307.4,426.1 L308.4,426.5 L309.4,426.8 L310.4,427.2 L311.4,427.6 L312.4,427.9 L313.4,428.3 L314.4,428.6 L315.4,429.0 L316.4,429.3 L317.4,429.6 L318.4,430.0 L319.4,430.3 L320.4,430.7 L321.4,431.0 L322.4,431.4 L323.4,431.7 L324.4,432.0 L325.4,432.4 L326.4,432.7 L327.4,433.0 L328.4,433.4 L329.4,433.7 L330.4,434.0 L331.4,434.4 L332.4,434.7 L333.4,435.0 L334.4,435.3 L335.4,435.6 L336.4,436.0 L337.4,436.3 L338.4,436.6 L339.4,436.9 L340.4,437.2 L341.4,437.5 L342.4,437.8 L343.4,438.1 L344.4,438.4 L345.4,438.7 L346.4,439.0 L347.4,439.3 L348.4,439.5 L349.4,439.8 L350.4,440.1 L351.4,440.4 L352.4,440.6 L353.4,440.9 L354.4,441.2 L355.4,441.5 L356.4,441.7 L357.4,442.0 L358.4,442.2 L359.4,442.5 L360.4,442.8 L361.4,443.0 L362.4,443.3 L363.4,443.5 L364.4,443.8 L365.4,444.0 L366.4,444.3"/>
<path d="M84.4,310.6 L85.4,311.0 L86.4,311.4 L87.4,311.8 L88.4,312.2 L89.4,312.5 L90.4,312.9 L91.4,313.3 L92.4,313.7 L93.4,314.0 L94.4,314.4 L95.4,314.8 L96.4,315.1 L97.4,315.5 L98.4,315.8 L99.4,316.1 L100.4,316.5 L101.4,316.8 L102.4,317.1 L103.4,317.5 L104.4,317.8 L105.4,318.1 L106.4,318.4 L107.4,318.7 L108.4,319.1 L109.4,319.4 L110.4,319.7 L111.4,320.0 L112.4,320.3 L113.4,320.6 L114.4,320.9 L115.4,321.2 L116.4,321.5 L117.4,321.8 L118.4,322.2 L119.4,322.5 L120.4,322.8 L121.4,323.1 L122.4,323.4 L123.4,323.7 L124.4,324.0 L125.4,324.4 L126.4,324.7 L127.4,325.0 L128.4,325.3 L129.4,325.7 L130.4,326.0 L131.4,326.3 L132.4,326.7 L133.4,327.0 L134.4,327.4 L135.4,327.7 L136.4,328.1 L137.4,328.5 L138.4,328.8 L139.4,329.2 L140.4,329.6 L141.4,330.0 L142.4,330.4 L143.4,330.8 L144.4,331.2 L145.4,331.6 L146.4,332.0 L147.4,332.4 L148.4,332.8 L149.4,333.3 L150.4,333.7 L151.4,334.2 L152.4,334.6 L153.4,335.1 L154.4,335.6 L155.4,336.0 L156.4,336.5 L157.4,337.1 L158.4,337.6 L159.4,338.1 L160.4,338.7 L161.4,339.3 L162.4,339.9 L163.4,340.6 L164.4,341.2 L165.4,341.9 L166.4,342.6 L167.4,343.3 L168.4,344.0 L169.4,344.7 L170.4,345.5 L171.4,346.3 L172.4,347.0 L173.4,347.9 L174.4,348.7 L175.4,349.6 L176.4,350.5 L177.4,351.4 L178.4,352.4 L179.4,353.4 L180.4,354.5 L181.4,355.5 L182.4,356.6 L183.4,357.7 L184.4,358.8 L185.4,359.8 L186.4,360.9 L187.4,362.0 L188.4,363.1 L189.4,364.1 L190.4,365.2 L191.4,366.2 L192.4,367.3 L193.4,368.3 L194.4,369.3 L195.4,370.3 L196.4,371.3 L197.4,372.3 L198.4,373.3 L199.4,374.3 L200.4,375.2 L201.4,376.1 L202.4,377.0 L203.4,377.8 L204.4,378.7 L205.4,379.5 L206.4,380.3 L207.4,381.1 L208.4,381.9 L209.4,382.7 L210.4,383.5 L211.4,384.2 L212.4,385.0 L213.4,385.7 L214.4,386.5 L215.4,387.2 L216.4,387.9 L217.4,388.6 L218.4,389.3 L219.4,390.0 L220.4,390.7 L221.4,391.4 L222.4,392.1 L223.4,392.8 L224.4,393.5 L225.4,394.2 L226.4,394.8 L227.4,395.5 L228.4,396.2 L229.4,396.8 L230.4,397.5 L231.4,398.2 L232.4,398.8 L233.4,399.5 L234.4,400.1 L235.4,400.7 L236.4,401.4 L237.4,402.0 L238.4,402.6 L239.4,403.3 L240.4,403.9 L241.4,404.5 L242.4,405.1 L243.4,405.7 L244.4,406.3 L245.4,406.9 L246.4,407.6 L247.4,408.2 L248.4,408.7 L249.4,409.3 L250.4,409.9 L251.4,410.5 L252.4,411.1 L253.4,411.7 L254.4,412.3 L255.4,412.8 L256.4,413.4 L257.4,414.0 L258.4,414.5 L259.4,415.1 L260.4,415.6 L261.4,416.2 L262.4,416.7 L263.4,417.3 L264.4,417.8 L265.4,418.3 L266.4,418.8 L267.4,419.3 L268.4,419.8 L269.4,420.3 L270.4,420.8 L271.4,421.3 L272.4,421.8 L273.4,422.3 L274.4,422.7 L275.4,423.2 L276.4,423.6 L277.4,424.1 L278.4,424.5 L279.4,425.0 L280.4,425.4 L281.4,425.8 L282.4,426.2 L283.4,426.6 L284.4,427.0 L285.4,427.5 L286.4,427.9 L287.4,428.2 L288.4,428.6 L289.4,429.0 L290.4,429.4 L291.4,429.8 L292.4,430.2 L293.4,430.6 L294.4,430.9 L295.4,431.3 L296.4,431.7 L297.4,432.1 L298.4,432.4 L299.4,432.8 L300.4,433.2 L301.4,433.6 L302.4,433.9 L303.4,434.3 L304.4,434.6 L305.4,435.0 L306.4,435.4 L307.4,435.7 L308.4,436.1 L309.4,436.4 L310.4,436.8 L311.4,437.2 L312.4,437.5 L313.4,437.9 L314.4,438.2 L315.4,438.6 L316.4,438.9 L317.4,439.2 L318.4,439.6 L319.4,439.9 L320.4,440.3 L321.4,440.6 L322.4,440.9 L323.4,441.3 L324.4,441.6 L325.4,441.9 L326.4,442.2 L327.4,442.5 L328.4,442.8 L329.4,443.2 L330.4,443.5 L331.4,443.8 L332.4,444.1 L333.4,444.3 L334.4,444.6 L335.4,444.9 L336.4,445.2 L337.4,445.5 L338.4,445.7 L339.4,446.0 L340.4,446.3 L341.4,446.5 L342.4,446.8 L343.4,447.1 L344.4,447.3 L345.4,447.6 L346.4,447.8 L347.4,448.1 L348.4,448.3 L349.4,448.5 L350.4,448.8 L351.4,449.0 L352.4,449.2 L353.4,449.5 L354.4,449.7 L355.4,449.9 L356.4,450.2 L357.4,450.4 L358.4,450.6 L359.4,450.8 L360.4,451.0 L361.4,451.3 L362.4,451.5 L363.4,451.7 L364.4,451.9 L365.4,452.1 L366.4,452.3"/>
<path d="M84.4,348.8 L85.4,349.0 L86.4,349.3 L87.4,349.6 L88.4,349.9 L89.4,350.1 L90.4,350.4 L91.4,350.7 L92.4,350.9 L93.4,351.2 L94.4,351.5 L95.4,351.7 L96.4,352.0 L97.4,352.2 L98.4,352.5 L99.4,352.7 L100.4,353.0 L101.4,353.2 L102.4,353.5 L103.4,353.7 L104.4,354.0 L105.4,354.2 L106.4,354.4 L107.4,354.7 L108.4,354.9 L109.4,355.1 L110.4,355.4 L111.4,355.6 L112.4,355.8 L113.4,356.1 L114.4,356.3 L115.4,356.5 L116.4,356.8 L117.4,357.0 L118.4,357.2 L119.4,357.5 L120.4,357.7 L121.4,357.9 L122.4,358.2 L123.4,358.4 L124.4,358.7 L125.4,358.9 L126.4,359.1 L127.4,359.4 L128.4,359.6 L129.4,359.9 L130.4,360.1 L131.4,360.4 L132.4,360.6 L133.4,360.9 L134.4,361.2 L135.4,361.4 L136.4,361.7 L137.4,361.9 L138.4,362.2 L139.4,362.5 L140.4,362.8 L141.4,363.1 L142.4,363.3 L143.4,363.6 L144.4,363.9 L145.4,364.2 L146.4,364.5 L147.4,364.8 L148.4,365.1 L149.4,365.4 L150.4,365.8 L151.4,366.1 L152.4,366.4 L153.4,366.7 L154.4,367.1 L155.4,367.4 L156.4,367.8 L157.4,368.1 L158.4,368.5 L159.4,368.8 L160.4,369.2 L161.4,369.6 L162.4,370.0 L163.4,370.3 L164.4,370.8 L165.4,371.2 L166.4,371.6 L167.4,372.1 L168.4,372.5 L169.4,373.0 L170.4,373.6 L171.4,374.1 L172.4,374.7 L173.4,375.3 L174.4,375.9 L175.4,376.5 L176.4,377.1 L177.4,377.8 L178.4,378.4 L179.4,379.1 L180.4,379.8 L181.4,380.4 L182.4,381.1 L183.4,381.8 L184.4,382.5 L185.4,383.2 L186.4,384.0 L187.4,384.7 L188.4,385.5 L189.4,386.2 L190.4,387.0 L191.4,387.8 L192.4,388.6 L193.4,389.4 L194.4,390.1 L195.4,390.9 L196.4,391.7 L197.4,392.5 L198.4,393.3 L199.4,394.1 L200.4,394.8 L201.4,395.6 L202.4,396.4 L203.4,397.2 L204.4,397.9 L205.4,398.7 L206.4,399.4 L207.4,400.2 L208.4,400.9 L209.4,401.6 L210.4,402.3 L211.4,403.0 L212.4,403.7 L213.4,404.4 L214.4,405.0 L215.4,405.7 L216.4,406.4 L217.4,407.0 L218.4,407.7 L219.4,408.3 L220.4,409.0 L221.4,409.6 L222.4,410.3 L223.4,410.9 L224.4,411.5 L225.4,412.1 L226.4,412.8 L227.4,413.4 L228.4,414.0 L229.4,414.6 L230.4,415.2 L231.4,415.8 L232.4,416.4 L233.4,417.1 L234.4,417.7 L235.4,418.2 L236.4,418.8 L237.4,419.4 L238.4,420.0 L239.4,420.6 L240.4,421.2 L241.4,421.8 L242.4,422.3 L243.4,422.9 L244.4,423.5 L245.4,424.1 L246.4,424.6 L247.4,425.2 L248.4,425.8 L249.4,426.3 L250.4,426.9 L251.4,427.5 L252.4,428.0 L253.4,428.6 L254.4,429.1 L255.4,429.7 L256.4,430.2 L257.4,430.8 L258.4,431.3 L259.4,431.9 L260.4,432.4 L261.4,432.9 L262.4,433.4 L263.4,434.0 L264.4,434.5 L265.4,435.0 L266.4,435.5 L267.4,436.0 L268.4,436.4 L269.4,436.9 L270.4,437.4 L271.4,437.9 L272.4,438.3 L273.4,438.8 L274.4,439.2 L275.4,439.6 L276.4,440.1 L277.4,440.5 L278.4,440.9 L279.4,441.3 L280.4,441.8 L281.4,442.2 L282.4,442.6 L283.4,443.0 L284.4,443.3 L285.4,443.7 L286.4,444.1 L287.4,444.5 L288.4,444.8 L289.4,445.2 L290.4,445.5 L291.4,445.9 L292.4,446.2 L293.4,446.6 L294.4,446.9 L295.4,447.2 L296.4,447.5 L297.4,447.9 L298.4,448.2 L299.4,448.5 L300.4,448.8 L301.4,449.1 L302.4,449.4 L303.4,449.7 L304.4,450.0 L305.4,450.3 L306.4,450.6 L307.4,450.8 L308.4,451.1 L309.4,451.4 L310.4,451.7 L311.4,452.0 L312.4,452.3 L313.4,452.5 L314.4,452.8 L315.4,453.1 L316.4,453.4 L317.4,453.6 L318.4,453.9 L319.4,454.2 L320.4,454.5 L321.4,454.7 L322.4,455.0 L323.4,455.3 L324.4,455.5 L325.4,455.8 L326.4,456.1 L327.4,456.3 L328.4,456.6 L329.4,456.8 L330.4,457.1 L331.4,457.4 L332.4,457.6 L333.4,457.9 L334.4,458.1 L335.4,458.4 L336.4,458.6 L337.4,458.9 L338.4,459.1 L339.4,459.4 L340.4,459.6 L341.4,459.9 L342.4,460.1 L343.4,460.4 L344.4,460.6 L345.4,460.9 L346.4,461.1 L347.4,461.4 L348.4,461.6 L349.4,461.8 L350.4,462.1 L351.4,462.3 L352.4,462.5 L353.4,462.8 L354.4,463.0 L355.4,463.3 L356.4,463.5"/>
<path d="M84.4,373.8 L85.4,374.0 L86.4,374.2 L87.4,374.5 L88.4,374.7 L89.4,374.9 L90.4,375.2 L91.4,375.4 L92.4,375.6 L93.4,375.8 L94.4,376.1 L95.4,376.3 L96.4,376.5 L97.4,376.7 L98.4,376.9 L99.4,377.1 L100.4,377.3 L101.4,377.5 L102.4,377.7 L103.4,377.9 L104.4,378.1 L105.4,378.2 L106.4,378.4 L107.4,378.6 L108.4,378.8 L109.4,379.0 L110.4,379.1 L111.4,379.3 L112.4,379.5 L113.4,379.7 L114.4,379.8 L115.4,380.0 L116.4,380.2 L117.4,380.4 L118.4,380.5 L119.4,380.7 L120.4,380.9 L121.4,381.1 L122.4,381.3 L123.4,381.4 L124.4,381.6 L125.4,381.8 L126.4,382.0 L127.4,382.2 L128.4,382.4 L129.4,382.5 L130.4,382.7 L131.4,382.9 L132.4,383.1 L133.4,383.3 L134.4,383.5 L135.4,383.7 L136.4,383.9 L137.4,384.1 L138.4,384.4 L139.4,384.6 L140.4,384.8 L141.4,385.0 L142.4,385.3 L143.4,385.5 L144.4,385.7 L145.4,386.0 L146.4,386.2 L147.4,386.5 L148.4,386.8 L149.4,387.0 L150.4,387.3 L151.4,387.6 L152.4,387.9 L153.4,388.1 L154.4,388.4 L155.4,388.7 L156.4,389.0 L157.4,389.4 L158.4,389.7 L159.4,390.0 L160.4,390.3 L161.4,390.7 L162.4,391.0 L163.4,391.4 L164.4,391.8 L165.4,392.2 L166.4,392.6 L167.4,393.0 L168.4,393.4 L169.4,393.9 L170.4,394.4 L171.4,394.9 L172.4,395.4 L173.4,395.9 L174.4,396.5 L175.4,397.0 L176.4,397.6 L177.4,398.2 L178.4,398.8 L179.4,399.4 L180.4,400.0 L181.4,400.7 L182.4,401.3 L183.4,402.0 L184.4,402.7 L185.4,403.4 L186.4,404.2 L187.4,404.9 L188.4,405.7 L189.4,406.5 L190.4,407.3 L191.4,408.1 L192.4,409.0 L193.4,409.8 L194.4,410.6 L195.4,411.5 L196.4,412.3 L197.4,413.1 L198.4,414.0 L199.4,414.8 L200.4,415.6 L201.4,416.4 L202.4,417.1 L203.4,417.9 L204.4,418.6 L205.4,419.3 L206.4,419.9 L207.4,420.6 L208.4,421.2 L209.4,421.9 L210.4,422.5 L211.4,423.1 L212.4,423.7 L213.4,424.3 L214.4,424.9 L215.4,425.4 L216.4,426.0 L217.4,426.6 L218.4,427.1 L219.4,427.7 L220.4,428.3 L221.4,428.8 L222.4,429.4 L223.4,429.9 L224.4,430.5 L225.4,431.0 L226.4,431.6 L227.4,432.1 L228.4,432.7 L229.4,433.2 L230.4,433.7 L231.4,434.3 L232.4,434.8 L233.4,435.3 L234.4,435.9 L235.4,436.4 L236.4,436.9 L237.4,437.4 L238.4,437.9 L239.4,438.4 L240.4,438.9 L241.4,439.5 L242.4,440.0 L243.4,440.5 L244.4,441.0 L245.4,441.5 L246.4,442.0 L247.4,442.5 L248.4,443.0 L249.4,443.5 L250.4,443.9 L251.4,444.4 L252.4,444.9 L253.4,445.4 L254.4,445.9 L255.4,446.3 L256.4,446.8 L257.4,447.2 L258.4,447.7 L259.4,448.2 L260.4,448.6 L261.4,449.0 L262.4,449.5 L263.4,449.9 L264.4,450.3 L265.4,450.8 L266.4,451.2 L267.4,451.6 L268.4,452.0 L269.4,452.4 L270.4,452.8 L271.4,453.2 L272.4,453.6 L273.4,453.9 L274.4,454.3 L275.4,454.7 L276.4,455.0 L277.4,455.4 L278.4,455.7 L279.4,456.1 L280.4,456.4 L281.4,456.8 L282.4,457.1 L283.4,457.4 L284.4,457.7 L285.4,458.0 L286.4,458.4 L287.4,458.7 L288.4,459.0 L289.4,459.3 L290.4,459.6 L291.4,459.9 L292.4,460.2 L293.4,460.5 L294.4,460.8 L295.4,461.1 L296.4,461.3 L297.4,461.6 L298.4,461.9 L299.4,462.2 L300.4,462.5 L301.4,462.8 L302.4,463.0 L303.4,463.3 L304.4,463.6"/>
</g>
<g fill="#000">
<circle cx="149.8" cy="184.6" r="3.3"/>
<circle cx="152.6" cy="215.4" r="3.3"/>
<circle cx="156.2" cy="244.2" r="3.3"/>
<circle cx="156.6" cy="253.2" r="3.3"/>
<circle cx="161" cy="279.4" r="3.3"/>
<circle cx="162.7" cy="300.5" r="3.3"/>
<circle cx="167.4" cy="310.9" r="3.3"/>
<circle cx="168.2" cy="323" r="3.3"/>
<circle cx="175.6" cy="349.5" r="3.3"/>
<circle cx="184.9" cy="382.6" r="3.3"/>
<circle cx="181.6" cy="400.5" r="3.3"/>
</g>
<g opacity="0.999">
<text x="50.2" y="103.1" font-size="18.3" textLength="23.5" lengthAdjust="spacingAndGlyphs"  >30</text>
<text x="50.2" y="194.4" font-size="18.3" textLength="23.5" lengthAdjust="spacingAndGlyphs"  >25</text>
<text x="50.2" y="285.6" font-size="18.3" textLength="23.5" lengthAdjust="spacingAndGlyphs"  >20</text>
<text x="52.4" y="376.9" font-size="18.3" textLength="20.9" lengthAdjust="spacingAndGlyphs"  >15</text>
<text x="52.4" y="468.6" font-size="18.3" textLength="20.9" lengthAdjust="spacingAndGlyphs"  >10</text>
<text x="79.2" y="485.1" font-size="18.3" textLength="10.8" lengthAdjust="spacingAndGlyphs"  >0</text>
<text x="149.7" y="485.1" font-size="18.3" textLength="10.8" lengthAdjust="spacingAndGlyphs"  >5</text>
<text x="215.4" y="485.1" font-size="18.3" textLength="20.5" lengthAdjust="spacingAndGlyphs"  >10</text>
<text x="285.9" y="485.1" font-size="18.3" textLength="20.5" lengthAdjust="spacingAndGlyphs"  >15</text>
<text x="355.1" y="485.1" font-size="18.3" textLength="23.1" lengthAdjust="spacingAndGlyphs"  >20</text>
<text x="186.52" y="510.80" font-size="20.2" textLength="11.28" lengthAdjust="spacingAndGlyphs" class="s" font-style="italic">E</text>
<text x="209.50" y="511.20" font-size="23.92" textLength="6.73" lengthAdjust="spacingAndGlyphs" class="s">[</text>
<text x="217.04" y="510.80" font-size="20.2" textLength="14.12" lengthAdjust="spacingAndGlyphs" class="s">M</text>
<text x="230.68" y="510.90" font-size="20.2" textLength="11.63" lengthAdjust="spacingAndGlyphs" class="s">e</text>
<text x="241.68" y="510.90" font-size="20.2" textLength="13.83" lengthAdjust="spacingAndGlyphs" class="s">V</text>
<text x="256.02" y="511.20" font-size="23.92" textLength="7.18" lengthAdjust="spacingAndGlyphs" class="s">]</text>
<text transform="translate(36.10,361.00) rotate(-90)" x="-0.43" y="0" font-size="20.9" textLength="5.96" lengthAdjust="spacingAndGlyphs" class="s">l</text>
<text transform="translate(36.10,352.70) rotate(-90)" x="-0.67" y="0" font-size="20.9" textLength="8.85" lengthAdjust="spacingAndGlyphs" class="s">o</text>
<text transform="translate(36.10,343.60) rotate(-90)" x="-0.98" y="0" font-size="20.9" textLength="11.42" lengthAdjust="spacingAndGlyphs" class="s">g</text>
<text transform="translate(36.10,324.60) rotate(-90)" x="-0.27" y="0" font-size="20.9" textLength="11.44" lengthAdjust="spacingAndGlyphs" class="s" font-style="italic">S</text>
<text transform="translate(36.10,293.40) rotate(-90)" x="-0.46" y="0" font-size="20.9" textLength="14.23" lengthAdjust="spacingAndGlyphs" class="s">M</text>
<text transform="translate(36.10,279.60) rotate(-90)" x="-0.96" y="0" font-size="20.9" textLength="10.91" lengthAdjust="spacingAndGlyphs" class="s">e</text>
<text transform="translate(36.10,269.40) rotate(-90)" x="-0.19" y="0" font-size="20.9" textLength="12.49" lengthAdjust="spacingAndGlyphs" class="s">V</text>
<text transform="translate(36.10,250.10) rotate(-90)" x="-0.00" y="0" font-size="20.9" textLength="12.45" lengthAdjust="spacingAndGlyphs" class="s">b</text>
<text transform="translate(36.10,237.80) rotate(-90)" x="-0.90" y="0" font-size="20.9" textLength="11.35" lengthAdjust="spacingAndGlyphs" class="s">a</text>
<text transform="translate(36.10,226.40) rotate(-90)" x="-0.51" y="0" font-size="20.9" textLength="8.43" lengthAdjust="spacingAndGlyphs" class="s">r</text>
<text transform="translate(36.10,217.40) rotate(-90)" x="-0.57" y="0" font-size="20.9" textLength="12.34" lengthAdjust="spacingAndGlyphs" class="s">n</text>
<text transform="translate(37.22,299.70) rotate(-90)" x="-1.67" y="0" font-size="24.53" textLength="7.48" lengthAdjust="spacingAndGlyphs" class="s">[</text>
<text transform="translate(37.22,203.70) rotate(-90)" x="-0.84" y="0" font-size="24.53" textLength="7.78" lengthAdjust="spacingAndGlyphs" class="s">]</text>
<text x="112.40" y="127.40" font-size="11.7" textLength="7.69" lengthAdjust="spacingAndGlyphs" stroke="#000" stroke-width="0.35">2</text>
<text x="119.89" y="127.40" font-size="11.7" textLength="7.39" lengthAdjust="spacingAndGlyphs" stroke="#000" stroke-width="0.35">4</text>
<text x="156.50" y="127.40" font-size="11.7" textLength="7.69" lengthAdjust="spacingAndGlyphs" stroke="#000" stroke-width="0.35">2</text>
<text x="163.89" y="127.40" font-size="11.7" textLength="7.39" lengthAdjust="spacingAndGlyphs" stroke="#000" stroke-width="0.35">4</text>
<text x="108.13" y="410.40" font-size="11.7" textLength="6.75" lengthAdjust="spacingAndGlyphs" stroke="#000" stroke-width="0.35">0</text>
<text x="151.82" y="410.40" font-size="11.7" textLength="6.86" lengthAdjust="spacingAndGlyphs" stroke="#000" stroke-width="0.35">0</text>
<text x="102.08" y="410.40" font-size="12.42" textLength="5.82" lengthAdjust="spacingAndGlyphs" class="s" stroke="#000" stroke-width="0.3">1</text>
<text x="145.88" y="410.40" font-size="12.42" textLength="5.82" lengthAdjust="spacingAndGlyphs" class="s" stroke="#000" stroke-width="0.3">1</text>
</g>
<path d="M142.10,127.45 H153.80 M147.95,122.30 V132.60" stroke="#000" stroke-width="1.15" fill="none"/>
<path d="M131.00,410.45 H142.80 M136.90,405.30 V415.60" stroke="#000" stroke-width="1.15" fill="none"/>
<path d="M248.00,161.45 H264.90 M256.45,153.20 V169.70" stroke="#000" stroke-width="1.2" fill="none"/>
<path d="M138.35,119.79 H139.25 V123.57 H138.35 V121.87 A4.72,6.00 0 1 0 138.93,130.01 L139.14,130.43 A5.83,7.00 0 1 1 138.65,121.46 L138.35,119.79 Z" fill="#000"/>
<path d="M182.25,119.79 H183.15 V123.57 H182.25 V121.88 A4.66,6.00 0 1 0 182.83,130.00 L183.04,130.43 A5.78,7.00 0 1 1 182.55,121.46 L182.25,119.79 Z" fill="#000"/>
<path d="M127.14,402.79 H128.04 V406.57 H127.14 V404.86 A4.91,6.00 0 1 0 127.71,413.05 L127.93,413.43 A6.00,7.00 0 1 1 127.44,404.48 L127.14,402.79 Z" fill="#000"/>
<path d="M170.84,402.79 H171.75 V406.57 H170.84 V404.86 A4.91,6.00 0 1 0 171.42,413.05 L171.64,413.43 A6.00,7.00 0 1 1 171.15,404.48 L170.84,402.79 Z" fill="#000"/>
<path d="M241.52,150.04 H242.62 V155.71 H241.52 V153.20 A7.00,9.22 0 1 0 242.15,165.48 L242.46,166.00 A8.56,10.50 0 1 1 241.82,152.65 L241.52,150.04 Z" fill="#000"/>
<path d="M284.52,150.04 H285.62 V155.71 H284.52 V153.20 A7.00,9.22 0 1 0 285.15,165.48 L285.46,166.00 A8.56,10.50 0 1 1 284.82,152.65 L284.52,150.04 Z" fill="#000"/>
</svg></body></html>
